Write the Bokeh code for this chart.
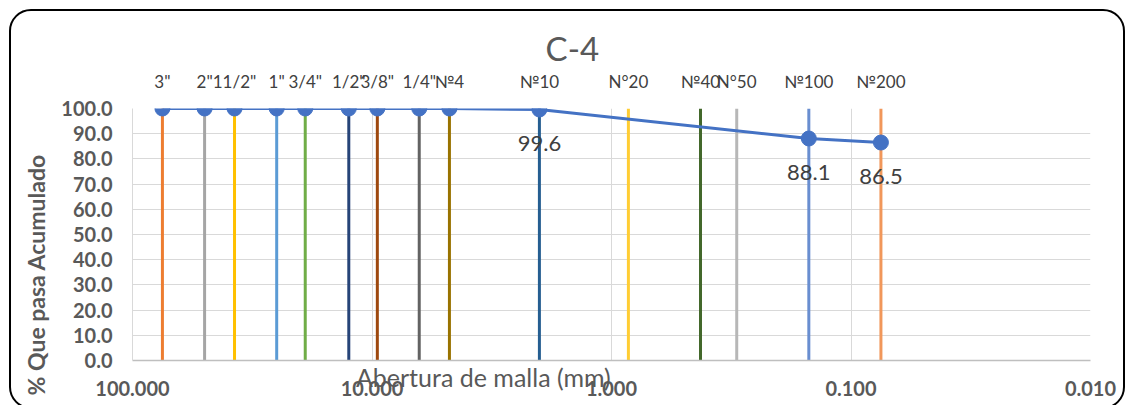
from bokeh.plotting import figure
from bokeh.models import (Range1d, FixedTicker, PrintfTickFormatter, ColumnDataSource,
                          Label, LogAxis, InlineStyleSheet)
from bokeh.embed import file_html
from bokeh.resources import INLINE

# Sieve series: names, openings (mm) and cumulative percent passing
TITLE = "C-4"
X_TITLE = "Abertura de malla (mm)"
Y_TITLE = "% Que pasa Acumulado"
sieve_names = ['3"', '2"', '11/2"', '1"', '3/4"', '1/2"', '3/8"', '1/4"',
               "№4", "№10", "N°20", "№40", "N°50", "№100", "№200"]
sieve_mm = [75.0, 50.0, 37.5, 25.0, 19.0, 12.5, 9.5, 6.35,
            4.75, 2.0, 0.85, 0.425, 0.3, 0.15, 0.075]
percent_passing = [100.0, 100.0, 100.0, 100.0, 100.0, 100.0, 100.0, 100.0,
                   100.0, 99.6, None, None, None, 88.1, 86.5]
x_ticks = [100, 10, 1, 0.1, 0.01]
y_ticks = [0, 10, 20, 30, 40, 50, 60, 70, 80, 90, 100]

sieve_colors = ["#ED7D31", "#A5A5A5", "#FFC000", "#5B9BD5", "#70AD47", "#264478",
                "#9E480E", "#636363", "#997300", "#255E91", "#FFCD33", "#43682B",
                "#B7B7B7", "#698ED0", "#F1975A"]

FONT = "Lato"
W, H = 1125, 405
EM, EN, THIN = "\u2003", "\u2002", "\u2009"

p = figure(width=W, height=H, x_axis_type="log",
           x_range=Range1d(100, 0.01), y_range=Range1d(0, 100),
           output_backend="svg", toolbar_location=None,
           min_border_left=132, min_border_right=35,
           min_border_top=108, min_border_bottom=45)
p.outline_line_color = None
p.background_fill_color = "white"
p.border_fill_color = "white"

# Chart title (trailing spaces move it left of the frame centre)
p.title.text = TITLE + EM * 3 + THIN
p.title.align = "center"
p.title.standoff = 0
p.title.text_font = FONT
p.title.text_font_size = "33px"
p.title.text_font_style = "normal"
p.title.text_color = "#595959"

# Bottom / left axes
p.xaxis.ticker = FixedTicker(ticks=x_ticks)
p.xaxis.formatter = PrintfTickFormatter(format="%.3f")
p.yaxis.ticker = FixedTicker(ticks=y_ticks)
p.yaxis.formatter = PrintfTickFormatter(format="%.1f")
for ax in (p.xaxis, p.yaxis):
    ax.major_tick_line_color = None
    ax.minor_tick_line_color = None
    ax.major_tick_out = 0
    ax.major_label_text_font = FONT
    ax.major_label_text_font_style = "bold"
    ax.major_label_text_font_size = "20px"
    ax.major_label_text_color = "#595959"
    ax.axis_label_text_font = FONT
    ax.axis_label_text_color = "#595959"
p.xaxis.axis_line_color = "#BFBFBF"
p.xaxis.axis_line_width = 1.5
p.yaxis.axis_line_color = "#D9D9D9"
p.xaxis.major_label_standoff = 20
p.yaxis.major_label_standoff = 20

# axis titles, padded so they sit off-centre along the axis
p.xaxis.axis_label = X_TITLE + EM * 13 + EN
p.xaxis.axis_label_text_font_size = "25px"
p.xaxis.axis_label_text_font_style = "normal"
p.xaxis.axis_label_standoff = -37
p.yaxis.axis_label = Y_TITLE + EM * 4 + EN
p.yaxis.axis_label_text_font_size = "23px"
p.yaxis.axis_label_text_font_style = "bold"
p.yaxis.axis_label_standoff = 8

p.xgrid.ticker = FixedTicker(ticks=x_ticks)
p.ygrid.ticker = FixedTicker(ticks=y_ticks)
p.grid.grid_line_color = "#D9D9D9"
p.grid.grid_line_width = 1

# Sieve names along the top
top_axis = LogAxis(ticker=FixedTicker(ticks=sieve_mm),
                   major_label_overrides={m: s for m, s in zip(sieve_mm, sieve_names)},
                   axis_line_color=None, major_tick_line_color=None,
                   minor_tick_line_color=None, major_tick_out=0,
                   major_label_standoff=17, major_label_text_font=FONT,
                   major_label_text_font_size="17px",
                   major_label_text_color="#404040")
p.add_layout(top_axis, "above")

# Vertical lines marking each sieve opening
n = len(sieve_mm)
sieve_src = ColumnDataSource(dict(x=sieve_mm, y0=[0] * n, y1=[100] * n,
                                  color=sieve_colors))
p.segment(x0="x", y0="y0", x1="x", y1="y1", color="color", line_width=3,
          source=sieve_src)

# Grading curve
cx = [s for s, v in zip(sieve_mm, percent_passing) if v is not None]
cy = [v for v in percent_passing if v is not None]
curve_src = ColumnDataSource(dict(x=cx, y=cy))
p.line("x", "y", source=curve_src, line_color="#4472C4", line_width=3)
p.scatter("x", "y", source=curve_src, size=15, fill_color="#4472C4",
          line_color="#4472C4")

# Value labels under the points that fall below 100 %
for x, y in zip(cx, cy):
    if y < 100:
        p.add_layout(Label(x=x, y=y, y_offset=-34, text="%.1f" % y,
                           text_align="center", text_baseline="middle",
                           text_font=FONT, text_font_size="22px",
                           text_color="#404040"))

# Rounded chart border
p.stylesheets = [InlineStyleSheet(css="""
:host { position: relative; }
:host::after {
  content: ""; position: absolute; left: 9px; top: 9px;
  width: 1116px; height: 400px; box-sizing: border-box;
  border: 2px solid #000; border-radius: 22px; pointer-events: none;
}
""")]

open("out.html", "w").write(file_html(p, INLINE))
